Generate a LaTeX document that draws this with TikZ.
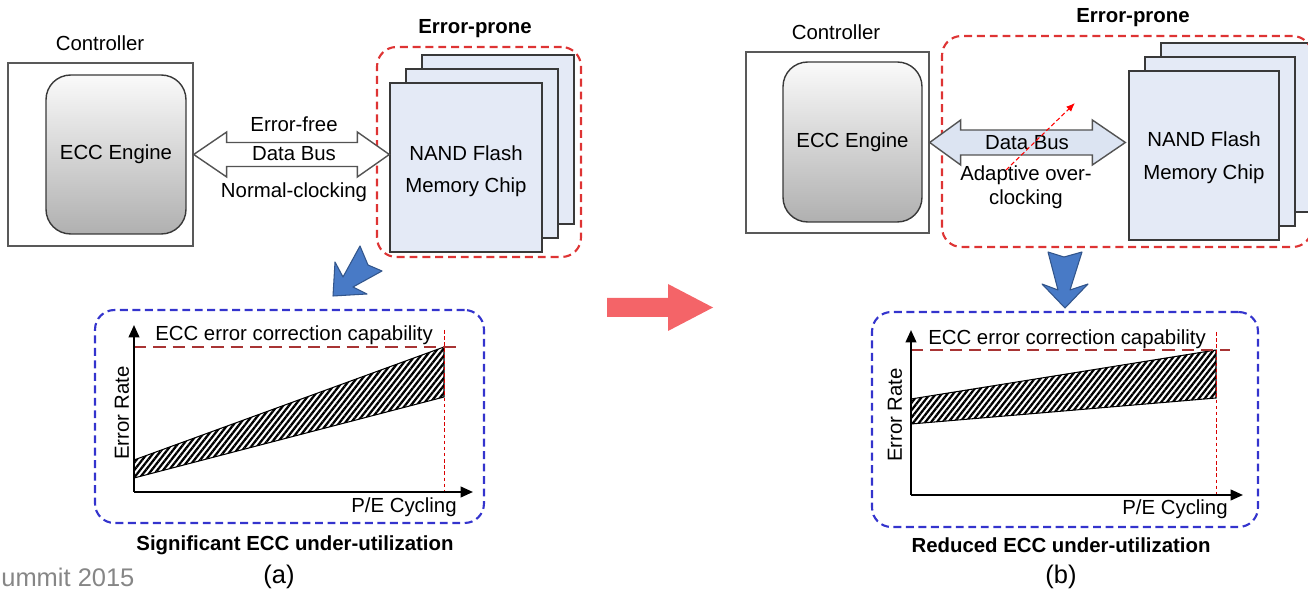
\documentclass[tikz,border=0pt]{standalone}
\usepackage{fontspec}
\setmainfont{Liberation Sans}
\usetikzlibrary{calc,arrows.meta,patterns.meta}

\definecolor{chipblue}{RGB}{228,234,246}
\definecolor{busblue}{RGB}{220,228,242}
\definecolor{zonered}{RGB}{222,52,52}
\definecolor{plotblue}{RGB}{52,52,205}
\definecolor{capred}{RGB}{168,52,52}
\definecolor{arrowblue}{RGB}{72,122,198}
\definecolor{arrowred}{RGB}{244,100,104}

\newcommand{\figfont}{\fontsize{11.6}{14}\selectfont}

\tikzset{
  txt/.style={inner sep=0pt, font=\figfont},
  heading/.style={inner sep=0pt, font=\figfont\bfseries},
  tag/.style={inner sep=0pt, font=\fontsize{14.5}{16}\selectfont},
  box/.style={draw=gray!70!black, line width=0.8pt, inner sep=0pt},
  engine/.style={draw=gray!45!black, line width=0.8pt, rounded corners=14pt,
    top color=gray!4, bottom color=gray!62, inner sep=0pt, font=\figfont},
  chip/.style={draw=gray!45!black, line width=0.8pt, fill=chipblue, inner sep=0pt},
  zone/.style={draw=zonered, line width=1.2pt, dash pattern=on 4.5pt off 2.8pt,
    rounded corners=11pt, inner sep=0pt},
  plotzone/.style={draw=plotblue, line width=1.2pt, dash pattern=on 4.5pt off 2.6pt,
    rounded corners=11pt, inner sep=0pt},
  bus/.style={draw=gray!65!black, line width=0.8pt, line join=miter},
  capline/.style={draw=capred, line width=1.1pt, dash pattern=on 7pt off 4pt},
  limitline/.style={draw=red!85!black, line width=0.5pt, dash pattern=on 2pt off 1.5pt},
  axis/.style={line width=1.2pt, -{Triangle[length=7pt,width=6pt]}},
  band/.style={draw=black, line width=0.6pt,
    pattern={Lines[angle=52,distance=2.6pt,line width=1.3pt]}},
  bigarrow/.style={fill=arrowblue, draw=arrowblue!70!black, line width=0.6pt, line join=round},
  tuneline/.style={draw=red, line width=0.6pt, dash pattern=on 2.5pt off 1.5pt,
    -{Latex[length=5pt,width=4pt]}}
}

\begin{document}
\begin{tikzpicture}[x=0.02cm, y=-0.02cm]
\useasboundingbox (0,0) rectangle (1308,590);

% ---- (a) normal clocking ----
\node[txt] (ctrlAtitle) at (100,43) {Controller};
\node[box, minimum width=3.70cm, minimum height=3.66cm] (ctrlA) at (100.5,154.5) {};
\node[engine, minimum width=2.80cm, minimum height=3.18cm] (eccA) at (116,154.5) {ECC Engine};

\foreach \i in {2,1,0}
  \node[chip, minimum width=3.04cm, minimum height=3.38cm] (flashA\i) at ({466+16*\i},{167.5-14*\i}) {};
\node[txt, align=center, font=\fontsize{11.6}{18}\selectfont] (nandA) at (466,171) {NAND Flash\\Memory Chip};
\node[zone, minimum width=4.08cm, minimum height=4.2cm] (zoneA) at (479,152) {};
\node[heading] (proneA) at (475,29) {Error-prone};

\coordinate (busAL) at (ctrlA.east);
\coordinate (busAR) at (ctrlA.east -| flashA0.west);
\draw[bus, fill=white] (busAL) -- ++(33,-22.5) -- ++(0,10.5) -- ($(busAR)+(-32,-12)$)
  -- ++(0,-10.5) -- (busAR) -- ++(-32,22.5) -- ++(0,-10.5) -- ($(busAL)+(33,12)$)
  -- ++(0,10.5) -- cycle;
\node[txt] (freeA) at (294,124) {Error-free};
\node[txt] (dbusA) at (294,154) {Data Bus};
\node[txt] (clkA) at (294,192) {Normal-clocking};

\draw[bigarrow] (333,296) -- (335,262) -- (343,277) -- (360,246) -- (368,265)
  -- (382,271) -- (353,287) -- (367,294) -- cycle;

% chart (a)
\node[plotzone, minimum width=7.78cm, minimum height=4.26cm] (plotA) at (289.5,416.5) {};
\coordinate (oA) at (134,492);
\draw[band] (134,460) -- (444,347) -- (444,397) -- (134,478) -- cycle;
\draw[capline] (134,347) -- (461,347);
\draw[limitline] (444,330) -- (444,492);
\draw[axis] (oA) -- (134,325);
\draw[axis] (oA) -- (473,492);
\node[txt] (capA) at (294,335) {ECC error correction capability};
\node[txt, rotate=90] (rateA) at (122,413) {Error Rate};
\node[txt] (peA) at (404,507) {P/E Cycling};
\node[heading] (sumA) at (295,545) {Significant ECC under-utilization};
\node[tag] (tagA) at (279,577) {(a)};
\node[tag, anchor=west, text=gray!95] (venue) at (1,577) {ummit 2015};

% ---- middle arrow ----
\fill[arrowred] (607,298) -- (668,298) -- (668,284) -- (713,307.5) -- (668,331)
  -- (668,317) -- (607,317) -- cycle;

% ---- (b) adaptive over-clocking ----
\node[txt] (ctrlBtitle) at (836,32) {Controller};
\node[box, minimum width=3.66cm, minimum height=3.62cm] (ctrlB) at (837.5,142.5) {};
\node[engine, minimum width=2.78cm, minimum height=3.20cm] (eccB) at (852.5,142) {ECC Engine};

\foreach \i in {2,1,0}
  \node[chip, minimum width=3.0cm, minimum height=3.38cm] (flashB\i) at ({1204+16*\i},{155.5-14*\i}) {};
\node[txt, align=center, font=\fontsize{11.6}{19}\selectfont] (nandB) at (1204,158) {NAND Flash\\Memory Chip};
\node[zone, minimum width=7.4cm, minimum height=4.22cm] (zoneB) at (1127,141.5) {};
\node[heading] (proneB) at (1133,18) {Error-prone};

\coordinate (busBL) at (ctrlB.east);
\coordinate (busBR) at ($(ctrlB.east -| flashB0.west)+(-3,0)$);
\draw[bus, fill=busblue] (busBL) -- ++(31,-22.5) -- ++(0,10) -- ($(busBR)+(-33,-12.5)$)
  -- ++(0,-10) -- (busBR) -- ++(-33,22.5) -- ++(0,-10) -- ($(busBL)+(31,12.5)$)
  -- ++(0,10) -- cycle;
\node[txt] (dbusB) at (1027,143) {Data Bus};
\node[txt, align=center, font=\fontsize{11.6}{13.6}\selectfont] (clkB) at (1026,187) {Adaptive over-\\clocking};
\coordinate (tuneS) at (1006,170);
\coordinate (tuneE) at (1075,103);
\draw[tuneline] (tuneS) -- (tuneE);

\draw[bigarrow] (1048,252) -- (1064,257) -- (1082,252) -- (1070,290) -- (1088,284)
  -- (1065,308) -- (1042,284) -- (1058,290) -- cycle;

% chart (b)
\node[plotzone, minimum width=7.72cm, minimum height=4.3cm] (plotB) at (1065,419.5) {};
\coordinate (oB) at (911,495);
\draw[band] (911,399) -- (1216,350) -- (1216,398) -- (911,424) -- cycle;
\draw[capline] (911,350) -- (1230,350);
\draw[limitline] (1216,332) -- (1216,495);
\draw[axis] (oB) -- (911,330);
\draw[axis] (oB) -- (1243,495);
\node[txt] (capB) at (1067,339) {ECC error correction capability};
\node[txt, rotate=90] (rateB) at (895,415) {Error Rate};
\node[txt] (peB) at (1175,509) {P/E Cycling};
\node[heading] (sumB) at (1061,545) {Reduced ECC under-utilization};
\node[tag] (tagB) at (1061,577) {(b)};
\end{tikzpicture}
\end{document}
